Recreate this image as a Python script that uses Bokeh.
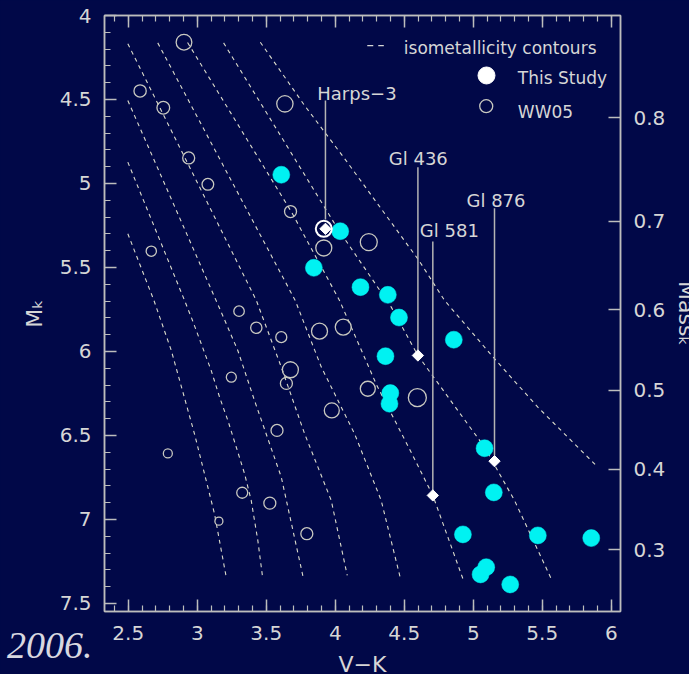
from bokeh.plotting import figure
from bokeh.models import (Range1d, LinearAxis, SingleIntervalTicker, FixedTicker,
                          CustomJSTickFormatter, CustomLabelingPolicy)
from bokeh.embed import file_html
from bokeh.resources import INLINE
from bokeh.core.properties import value

# ---------------- data ----------------
# isometallicity contours (V-K, M_K)
contour_vk = [
    [2.497, 2.686, 2.812, 2.980, 3.125, 3.210],
    [2.497, 2.908, 2.961, 3.029, 3.101, 3.162, 3.222, 3.283, 3.343, 3.391, 3.439, 3.475],
    [2.497, 3.174, 3.294, 3.415, 3.609, 3.770],
    [2.497, 3.428, 3.609, 3.778, 3.971, 4.087],
    [2.714, 3.710, 3.899, 4.140, 4.333, 4.473],
    [2.930, 3.681, 4.031, 4.300, 4.550, 4.707, 4.925],
    [3.191, 4.017, 4.406, 4.599, 4.888, 5.082, 5.299, 5.565],
    [3.457, 3.778, 4.067, 4.606, 4.792, 5.154, 5.468, 5.903],
]
contour_mk = [
    [5.299, 5.696, 5.994, 6.490, 6.966, 7.343],
    [4.873, 5.696, 5.805, 5.954, 6.113, 6.272, 6.411, 6.570, 6.728, 6.887, 7.125, 7.353],
    [4.506, 5.766, 5.994, 6.292, 6.748, 7.353],
    [4.168, 5.696, 6.093, 6.490, 6.887, 7.333],
    [4.163, 5.696, 6.093, 6.490, 6.887, 7.353],
    [4.161, 5.167, 5.696, 6.200, 6.600, 6.857, 7.353],
    [4.163, 5.268, 5.736, 6.024, 6.351, 6.570, 6.887, 7.353],
    [4.159, 4.536, 4.851, 5.458, 5.696, 6.043, 6.332, 6.689],
]

# This Study (filled cyan)
study_vk = [3.609, 4.036, 3.845, 4.183, 4.381, 4.462, 4.364, 4.859, 4.399,
            4.393, 5.082, 5.149, 4.925, 5.468, 5.855, 5.094, 5.053, 5.268]
study_mk = [4.948, 5.284, 5.502, 5.617, 5.663, 5.798, 6.028, 5.930, 6.248,
            6.311, 6.576, 6.839, 7.089, 7.095, 7.111, 7.284, 7.327, 7.387]

# WW05 (open circles) with symbol diameters
ww_vk = [2.904, 2.586, 2.754, 3.635, 2.938, 3.077, 3.676, 3.917, 2.667, 4.243,
         3.303, 3.428, 3.609, 3.886, 4.058, 3.675, 3.646, 3.247, 4.236, 4.595,
         3.975, 3.578, 2.787, 3.326, 3.526, 3.157, 3.794]
ww_mk = [4.159, 4.449, 4.549, 4.526, 4.848, 5.005, 5.167, 5.384, 5.403, 5.349,
         5.760, 5.859, 5.915, 5.879, 5.855, 6.109, 6.190, 6.153, 6.222, 6.275,
         6.351, 6.470, 6.607, 6.841, 6.903, 7.010, 7.085]
ww_size = [15.7, 12.3, 12.7, 16.3, 12, 11.7, 12, 16, 10.3, 17,
           10.5, 11.3, 11, 16, 16, 16, 12, 10, 15, 18,
           15, 12, 9, 11, 12, 8, 12]

# labelled planet hosts
star_names = ["Harps\u22123", "Gl 436", "Gl 581", "Gl 876"]
star_vk = [3.929, 4.599, 4.707, 5.154]
star_mk = [5.270, 6.024, 6.857, 6.653]
harps_vk = [3.917]
harps_mk = [5.270]

# right axis: mass scale
mass_tick_labels = ["0.8", "0.7", "0.6", "0.5", "0.4", "0.3"]
mass_tick_mk = [4.609, 5.226, 5.752, 6.232, 6.702, 7.180]

# ---------------- style ----------------
BG = "#010848"
AX = "#bdbdbd"
TXT = "#d6d6d6"
FONT = "DejaVu Sans"

p = figure(frame_width=516, frame_height=596,
           x_range=Range1d(2.328, 6.067), y_range=Range1d(7.548, 4.0),
           x_axis_location=None, y_axis_location=None,
           output_backend="svg", toolbar_location=None,
           min_border_left=104, min_border_right=69, min_border_top=15, min_border_bottom=63,
           background_fill_color=BG, border_fill_color=BG,
           outline_line_color=AX, outline_line_width=1.5)
p.grid.visible = False


def style_axis(ax):
    ax.axis_line_color = AX
    ax.axis_line_width = 1.5
    ax.major_tick_line_color = AX
    ax.major_tick_line_width = 1.5
    ax.minor_tick_line_color = AX
    ax.minor_tick_line_width = 1.2
    ax.major_tick_in = 12
    ax.major_tick_out = 0
    ax.minor_tick_in = 6
    ax.minor_tick_out = 0
    ax.major_label_text_color = TXT
    ax.major_label_text_font = FONT
    ax.major_label_text_font_size = "20px"
    ax.axis_label_text_color = TXT
    ax.axis_label_text_font = FONT
    ax.axis_label_text_font_style = "normal"
    ax.axis_label_text_font_size = "22px"


num_fmt = CustomJSTickFormatter(code="return String(Math.round(tick*10)/10);")

bottom = LinearAxis(ticker=SingleIntervalTicker(interval=0.5, num_minor_ticks=5),
                    formatter=num_fmt, axis_label="V\u2212K")
style_axis(bottom)
bottom.major_label_standoff = 14
bottom.axis_label_standoff = 9
p.add_layout(bottom, "below")

# top axis: ticks only, labels hidden by the labeling policy
top = LinearAxis(ticker=SingleIntervalTicker(interval=0.5, num_minor_ticks=5), formatter=num_fmt,
                 major_label_policy=CustomLabelingPolicy(
                     code="for (const i of indices) indices.unset(i); return indices;"))
style_axis(top)
top.major_label_text_font_size = "8px"
top.major_label_standoff = 0
p.add_layout(top, "above")

left = LinearAxis(ticker=SingleIntervalTicker(interval=0.5, num_minor_ticks=5),
                  formatter=num_fmt, axis_label="M\u2096")
style_axis(left)
left.major_label_standoff = 13
left.axis_label_standoff = 10
p.add_layout(left, "left")

mass_fmt = CustomJSTickFormatter(args=dict(pos=mass_tick_mk, lab=mass_tick_labels), code="""
let best = 0;
for (let i = 0; i < pos.length; i++) {
  if (Math.abs(pos[i] - tick) < Math.abs(pos[best] - tick)) best = i;
}
return lab[best];
""")
right = LinearAxis(ticker=FixedTicker(ticks=mass_tick_mk, minor_ticks=[]),
                   formatter=mass_fmt, axis_label="Mass\u2096")
style_axis(right)
right.minor_tick_in = 0
right.major_label_standoff = 13
right.axis_label_standoff = 6
p.add_layout(right, "right")

# contours
p.multi_line(xs=contour_vk, ys=contour_mk, line_color="#dcdccb", line_width=1.1,
             line_dash="4 4")

# WW05 open circles
p.scatter(x=ww_vk, y=ww_mk, size=ww_size, marker="circle", fill_color=None,
          line_color="#c8c8c0", line_width=1.3)

# This Study
p.scatter(x=study_vk, y=study_mk, size=17, marker="circle", fill_color="#00f2f2",
          line_color="#00f2f2", line_width=0.5)

# Harps-3 highlighted circle
p.scatter(x=harps_vk, y=harps_mk, size=16, marker="circle", fill_color=None,
          line_color="#ffffff", line_width=2)

# label leader lines
label_top_mk = [4.506, 4.903, 5.345, 5.147]
label_bot_mk = [5.214, 5.994, 6.827, 6.619]
p.segment(x0=star_vk, y0=label_top_mk, x1=star_vk, y1=label_bot_mk,
          line_color="#b4b4b4", line_width=1.5)

# diamonds
p.scatter(x=star_vk, y=star_mk, size=8, marker="square", angle=0.7854,
          fill_color="#ffffff", line_color="#ffffff", line_width=1)

# labels
label_vk = [3.870, 4.388, 4.613, 4.951]
label_mk = [4.466, 4.853, 5.280, 5.101]
p.text(x=label_vk, y=label_mk, text=star_names, text_font=value(FONT),
       text_font_size="18px", text_color=TXT, text_align="left",
       text_baseline="alphabetic")

# legend (drawn manually)
p.segment(x0=[4.232], y0=[4.179], x1=[4.352], y1=[4.179], line_color=TXT,
          line_width=1.3, line_dash="6 5")
p.text(x=[4.497, 5.323, 5.323], y=[4.195, 4.373, 4.576],
       text=["isometallicity contours", "This Study", "WW05"],
       text_font=value(FONT), text_font_size="17px", text_color=TXT,
       text_align="left", text_baseline="alphabetic")
p.scatter(x=[5.096], y=[4.357], size=17, marker="circle", fill_color="#ffffff",
          line_color="#ffffff")
p.scatter(x=[5.094], y=[4.540], size=13, marker="circle", fill_color=None,
          line_color="#c8c8c0", line_width=1.3)

# page styling and the slide's citation fragment (outside the plot frame)
TEMPLATE = """{% block postamble %}<style>html,body{margin:0 !important;padding:0;background:#010848;overflow:hidden;}
.cite{position:absolute;left:7px;top:626px;font-family:'Liberation Serif',serif;font-style:italic;font-size:38px;line-height:38px;color:#d8d8e0;white-space:nowrap;}</style>{% endblock %}
{% block inner_body %}{{ super() }}<div class="cite">2006.</div>{% endblock %}"""

open("out.html", "w").write(file_html(p, INLINE, template=TEMPLATE))
